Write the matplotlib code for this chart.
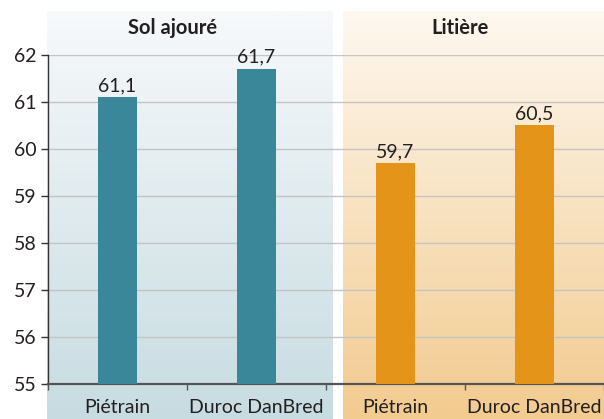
import matplotlib
matplotlib.use("Agg")
import matplotlib.pyplot as plt
import numpy as np
from matplotlib.colors import LinearSegmentedColormap

categories = ["Piétrain", "Duroc DanBred", "Piétrain", "Duroc DanBred"]
values = [61.1, 61.7, 59.7, 60.5]
labels = ["61,1", "61,7", "59,7", "60,5"]
groups = ["Sol ajouré", "Litière"]
yticks = [55, 56, 57, 58, 59, 60, 61, 62]

teal = "#3a8799"
orange = "#e39419"
bar_colors = [teal, teal, orange, orange]

plt.rcParams['font.family'] = ['Lato', 'DejaVu Sans']
FS = 14

W, H = 604, 419
fig = plt.figure(figsize=(W / 100, H / 100), dpi=100)

# background panels (pixel coordinates)
bg = fig.add_axes([0, 0, 1, 1], zorder=0)
bg.axis("off")
grad = np.linspace(0, 1, 256).reshape(-1, 1)
cm_teal = LinearSegmentedColormap.from_list("t", ["#f7f9fb", "#c7dce1"])
cm_or = LinearSegmentedColormap.from_list("o", ["#fef8f0", "#f2cb8f"])
bg.imshow(grad, cmap=cm_teal, extent=(47, 333, H, 12), aspect="auto")
bg.imshow(grad, cmap=cm_or, extent=(343, W, H, 12), aspect="auto")
bg.set_xlim(0, W)
bg.set_ylim(H, 0)

ax = fig.add_axes([48 / W, 35 / H, 1 - 48 / W, (384 - 54.5) / H], zorder=1)
ax.patch.set_alpha(0)
x = np.arange(len(values))
ax.bar(x, [v - 55 for v in values], bottom=55, width=0.286, color=bar_colors, zorder=3)
for xi, v, lab in zip(x, values, labels):
    ax.annotate(lab, (xi, v), xytext=(0, 2), textcoords="offset points",
                ha="center", va="bottom", fontsize=FS, color="#231f20")

ax.set_xlim(-0.5, 3.47)
ax.set_ylim(55, 62)
ax.set_yticks(yticks)
ax.set_yticklabels([str(t) for t in yticks], fontsize=FS, color="#231f20")
for t in yticks[1:]:
    ax.axhline(t, color="#c4c4c4", lw=1, zorder=1)

ax.set_xticks([-0.5, 0.5, 1.5, 2.5, 3.5])
ax.set_xticklabels([])
ax.tick_params(axis="x", direction="out", length=4, width=1, color="#555555")
ax.tick_params(axis="y", direction="out", length=5, width=1, color="#333333", pad=3)
for xi, c in zip(x, categories):
    ax.text(xi, -0.072, c, transform=ax.get_xaxis_transform(), ha="center", va="center",
            fontsize=FS, color="#231f20")

for s in ["top", "right"]:
    ax.spines[s].set_visible(False)
ax.spines["left"].set_color("#333333")
ax.spines["left"].set_linewidth(1)
ax.spines["bottom"].set_color("#555555")
ax.spines["bottom"].set_linewidth(1.6)

fig.text(173 / W, 1 - 28 / H, groups[0], ha="center", va="center", fontsize=14.5,
         fontweight="bold", color="#231f20")
fig.text(460 / W, 1 - 28 / H, groups[1], ha="center", va="center", fontsize=14.5,
         fontweight="bold", color="#231f20")

fig.savefig("out.png", dpi=100)
